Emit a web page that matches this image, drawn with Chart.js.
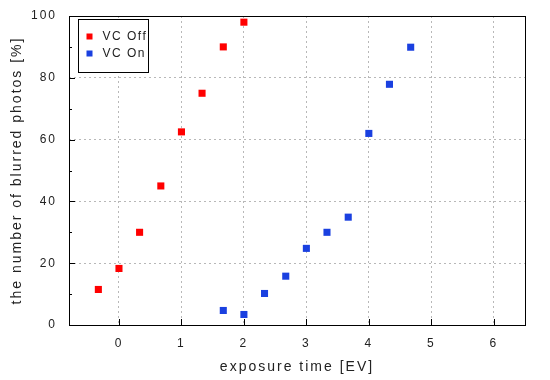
<!DOCTYPE html>
<html>
<head>
<meta charset="utf-8">
<script src="https://cdn.jsdelivr.net/npm/chart.js@4/dist/chart.umd.min.js"></script>
<style>
  html, body { margin: 0; padding: 0; background: #fff; }
  canvas { display: block; }
</style>
</head>
<body>
<canvas id="c" width="550" height="380"></canvas>
<script>
// ---- data ----
const seriesLabels = ["VC Off", "VC On"];
const xOff = [-0.33, 0, 0.33, 0.67, 1, 1.33, 1.67, 2];
const yOff = [11.5, 18.3, 30, 45, 62.5, 75, 90, 98];
const xOn  = [1.67, 2, 2.33, 2.67, 3, 3.33, 3.67, 4, 4.33, 4.67];
const yOn  = [4.7, 3.4, 10.2, 15.8, 24.8, 30, 34.9, 62, 77.9, 89.9];
const xTicks = [0, 1, 2, 3, 4, 5, 6];
const yTicks = [0, 20, 40, 60, 80, 100];
const yMinorTicks = [10, 30, 50, 70, 90];
const xTitle = "exposure time [EV]";
const yTitle = "the number of blurred photos [%]";

const RED = "#ff0000";
const BLUE = "#1a40e0";
const FONT = "'Liberation Sans', Arial, sans-serif";
const TEXT = "#222";

const toPts = (xs, ys) => xs.map((x, i) => ({ x: x, y: ys[i] }));

const setSpacing = chart => { try { chart.ctx.letterSpacing = '2px'; } catch (e) {} };
const spacingPlugin = {
  id: 'spacing',
  beforeUpdate: setSpacing,
  beforeLayout: setSpacing,
  beforeDraw: setSpacing
};

const framePlugin = {
  id: 'frame',
  afterDraw(chart) {
    const { ctx, chartArea: a, scales } = chart;
    ctx.save();
    ctx.letterSpacing = '0px';
    ctx.setLineDash([]);
    ctx.strokeStyle = '#000';
    ctx.lineWidth = 1;
    ctx.beginPath();
    xTicks.forEach(v => {
      const px = Math.round(scales.x.getPixelForValue(v)) + 0.5;
      ctx.moveTo(px, a.bottom); ctx.lineTo(px, a.bottom - 6);
    });
    yTicks.forEach(v => {
      const py = Math.round(scales.y.getPixelForValue(v)) + 0.5;
      ctx.moveTo(a.left, py); ctx.lineTo(a.left + 6, py);
    });
    yMinorTicks.forEach(v => {
      const py = Math.round(scales.y.getPixelForValue(v)) + 0.5;
      ctx.moveTo(a.left, py); ctx.lineTo(a.left + 3, py);
    });
    ctx.stroke();
    ctx.strokeRect(Math.round(a.left) + 0.5, Math.round(a.top) + 0.5,
                   Math.round(a.right - a.left), Math.round(a.bottom - a.top));

    // legend
    const lx = Math.round(a.left) + 9.5, ly = Math.round(a.top) + 3.5;
    const lw = 70, lh = 53;
    ctx.fillStyle = '#fff';
    ctx.fillRect(lx, ly, lw, lh);
    ctx.strokeRect(lx, ly, lw, lh);
    ctx.font = "12px " + FONT;
    ctx.letterSpacing = '1.5px';
    ctx.textBaseline = 'middle';
    ctx.textAlign = 'left';
    chart.data.datasets.forEach((ds, i) => {
      const cy = ly + 17 + i * 17;
      ctx.fillStyle = ds.backgroundColor;
      ctx.fillRect(lx + 8, cy - 3, 6, 6);
      ctx.fillStyle = TEXT;
      ctx.fillText(ds.label, lx + 24, cy);
    });
    ctx.restore();
  }
};

new Chart(document.getElementById('c'), {
  type: 'scatter',
  data: {
    datasets: [
      { label: seriesLabels[0], data: toPts(xOff, yOff), backgroundColor: RED, borderColor: RED,
        borderWidth: 0, pointStyle: 'rect', pointRadius: 5, pointHoverRadius: 5 },
      { label: seriesLabels[1], data: toPts(xOn, yOn), backgroundColor: BLUE, borderColor: BLUE,
        borderWidth: 0, pointStyle: 'rect', pointRadius: 5, pointHoverRadius: 5 }
    ]
  },
  options: {
    responsive: false,
    devicePixelRatio: 1,
    animation: false,
    events: [],
    layout: { padding: { left: 9, top: 16, right: 25, bottom: 0 } },
    plugins: { legend: { display: false }, tooltip: { enabled: false } },
    scales: {
      x: {
        type: 'linear', min: -0.8, max: 6.5,
        afterBuildTicks: s => { s.ticks = xTicks.map(v => ({ value: v })); },
        afterFit: s => { s.height = 55; s.paddingLeft = 0; s.paddingRight = 0; },
        grid: { color: '#b8b8b8', lineWidth: 1, drawTicks: false },
        border: { display: false, dash: [2, 3] },
        ticks: { font: { family: FONT, size: 12 }, color: TEXT, padding: 11, maxRotation: 0 },
        title: { display: true, text: xTitle, font: { family: FONT, size: 14 }, color: TEXT,
                 padding: { top: 0, bottom: 4 } }
      },
      y: {
        type: 'linear', min: 0, max: 100,
        afterBuildTicks: s => { s.ticks = yTicks.map(v => ({ value: v })); },
        afterFit: s => { s.width = 60; s.paddingTop = 0; s.paddingBottom = 0; },
        grid: { color: '#b8b8b8', lineWidth: 1, drawTicks: false },
        border: { display: false, dash: [2, 3] },
        ticks: { font: { family: FONT, size: 12 }, color: TEXT, padding: 12 },
        title: { display: true, text: yTitle, font: { family: FONT, size: 14 }, color: TEXT,
                 padding: { top: 0, bottom: 0 } }
      }
    }
  },
  plugins: [spacingPlugin, framePlugin]
});
</script>
</body>
</html>
